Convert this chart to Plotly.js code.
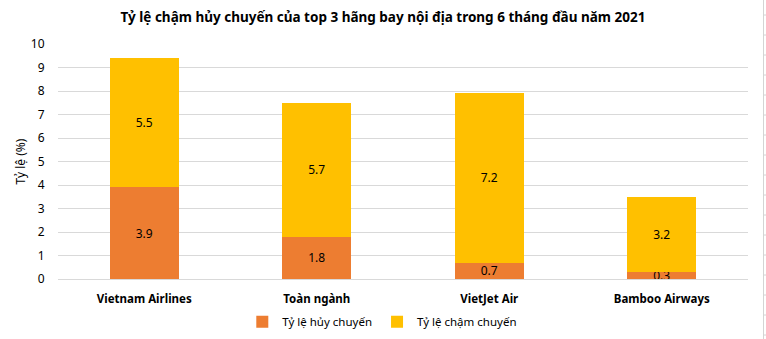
<!DOCTYPE html>
<html><head><meta charset="utf-8">
<script src="https://cdn.plot.ly/plotly-3.0.1.min.js"></script>
<style>html,body{margin:0;padding:0;background:#fff}#c{width:766px;height:339px}</style>
</head><body><div id="c"></div>
<script>
const categories = ["Vietnam Airlines", "Toàn ngành", "VietJet Air", "Bamboo Airways"];
const huyChuyen = [3.9, 1.8, 0.7, 0.3];
const chamChuyen = [5.5, 5.7, 7.2, 3.2];
const seriesNames = ["Tỷ lệ hủy chuyến", "Tỷ lệ chậm chuyến"];
const yTicks = [0,1,2,3,4,5,6,7,8,9,10];

const font = "Noto Sans, Open Sans, sans-serif";
const traces = [
  {type:"bar", x:categories, y:huyChuyen, name:seriesNames[0], marker:{color:"#ED7D31"},
   text:huyChuyen.map(v=>v.toFixed(1)), textposition:"inside", insidetextanchor:"middle",
   constraintext:"none", textfont:{color:"#000", size:12, family:font}, width:0.4, hoverinfo:"none"},
  {type:"bar", x:categories, y:chamChuyen, name:seriesNames[1], marker:{color:"#FFC000"},
   text:chamChuyen.map(v=>v.toFixed(1)), textposition:"inside", insidetextanchor:"middle",
   constraintext:"none", textfont:{color:"#000", size:12, family:font}, width:0.4, hoverinfo:"none"}
];

// page decoration: light sheet border on the right edge (pixel -> paper conversion)
const pw = 690, ph = 235, pl = 58, pt = 44;
const px = v => (v - pl) / pw, py = v => (pt + ph - v) / ph;
const shapes = [{type:"line", xref:"paper", yref:"paper", x0:px(763.5), x1:px(763.5), y0:py(0), y1:py(339),
  line:{color:"#D4D4D4", width:1}}];
for (let t = 15; t < 339; t += 20) {
  shapes.push({type:"line", xref:"paper", yref:"paper", x0:px(763.5), x1:px(766), y0:py(t), y1:py(t),
    line:{color:"#D4D4D4", width:1}});
}

const layout = {
  width:766, height:339, barmode:"stack",
  margin:{l:58, r:18, t:44, b:60, autoexpand:false},
  paper_bgcolor:"#fff", plot_bgcolor:"#fff",
  font:{family:font, size:12, color:"#000"},
  title:{text:"<b>Tỷ lệ chậm hủy chuyến của top 3 hãng bay nội địa trong 6 tháng đầu năm 2021</b>",
    x:0.5, xanchor:"center", y:0.95, yanchor:"middle", font:{size:13.5, family:font, color:"#000"}},
  xaxis:{tickfont:{size:11.5, family:font, color:"#000"}, showline:false, ticks:"outside", ticklen:9,
    tickcolor:"rgba(0,0,0,0)", tickprefix:"<b>", ticksuffix:"</b>", automargin:false},
  yaxis:{range:[0,10], tickvals:yTicks, ticktext:yTicks.map(String), showgrid:true, gridcolor:"#D9D9D9", gridwidth:1,
    zeroline:true, zerolinecolor:"#D9D9D9", zerolinewidth:1, showline:false, ticks:"outside", ticklen:10,
    tickcolor:"rgba(0,0,0,0)", automargin:false,
    tickfont:{size:12, family:font, color:"#000"},
    title:{text:"Tỷ lệ (%)", font:{size:12, family:font, color:"#000"}, standoff:2}},
  legend:{orientation:"h", traceorder:"normal", x:0.47, xanchor:"center", y:-0.12, yanchor:"top",
    font:{size:11.5, family:font, color:"#000"}},
  shapes: shapes,
  showlegend:true
};
Plotly.newPlot("c", traces, layout, {staticPlot:true});
</script></body></html>
